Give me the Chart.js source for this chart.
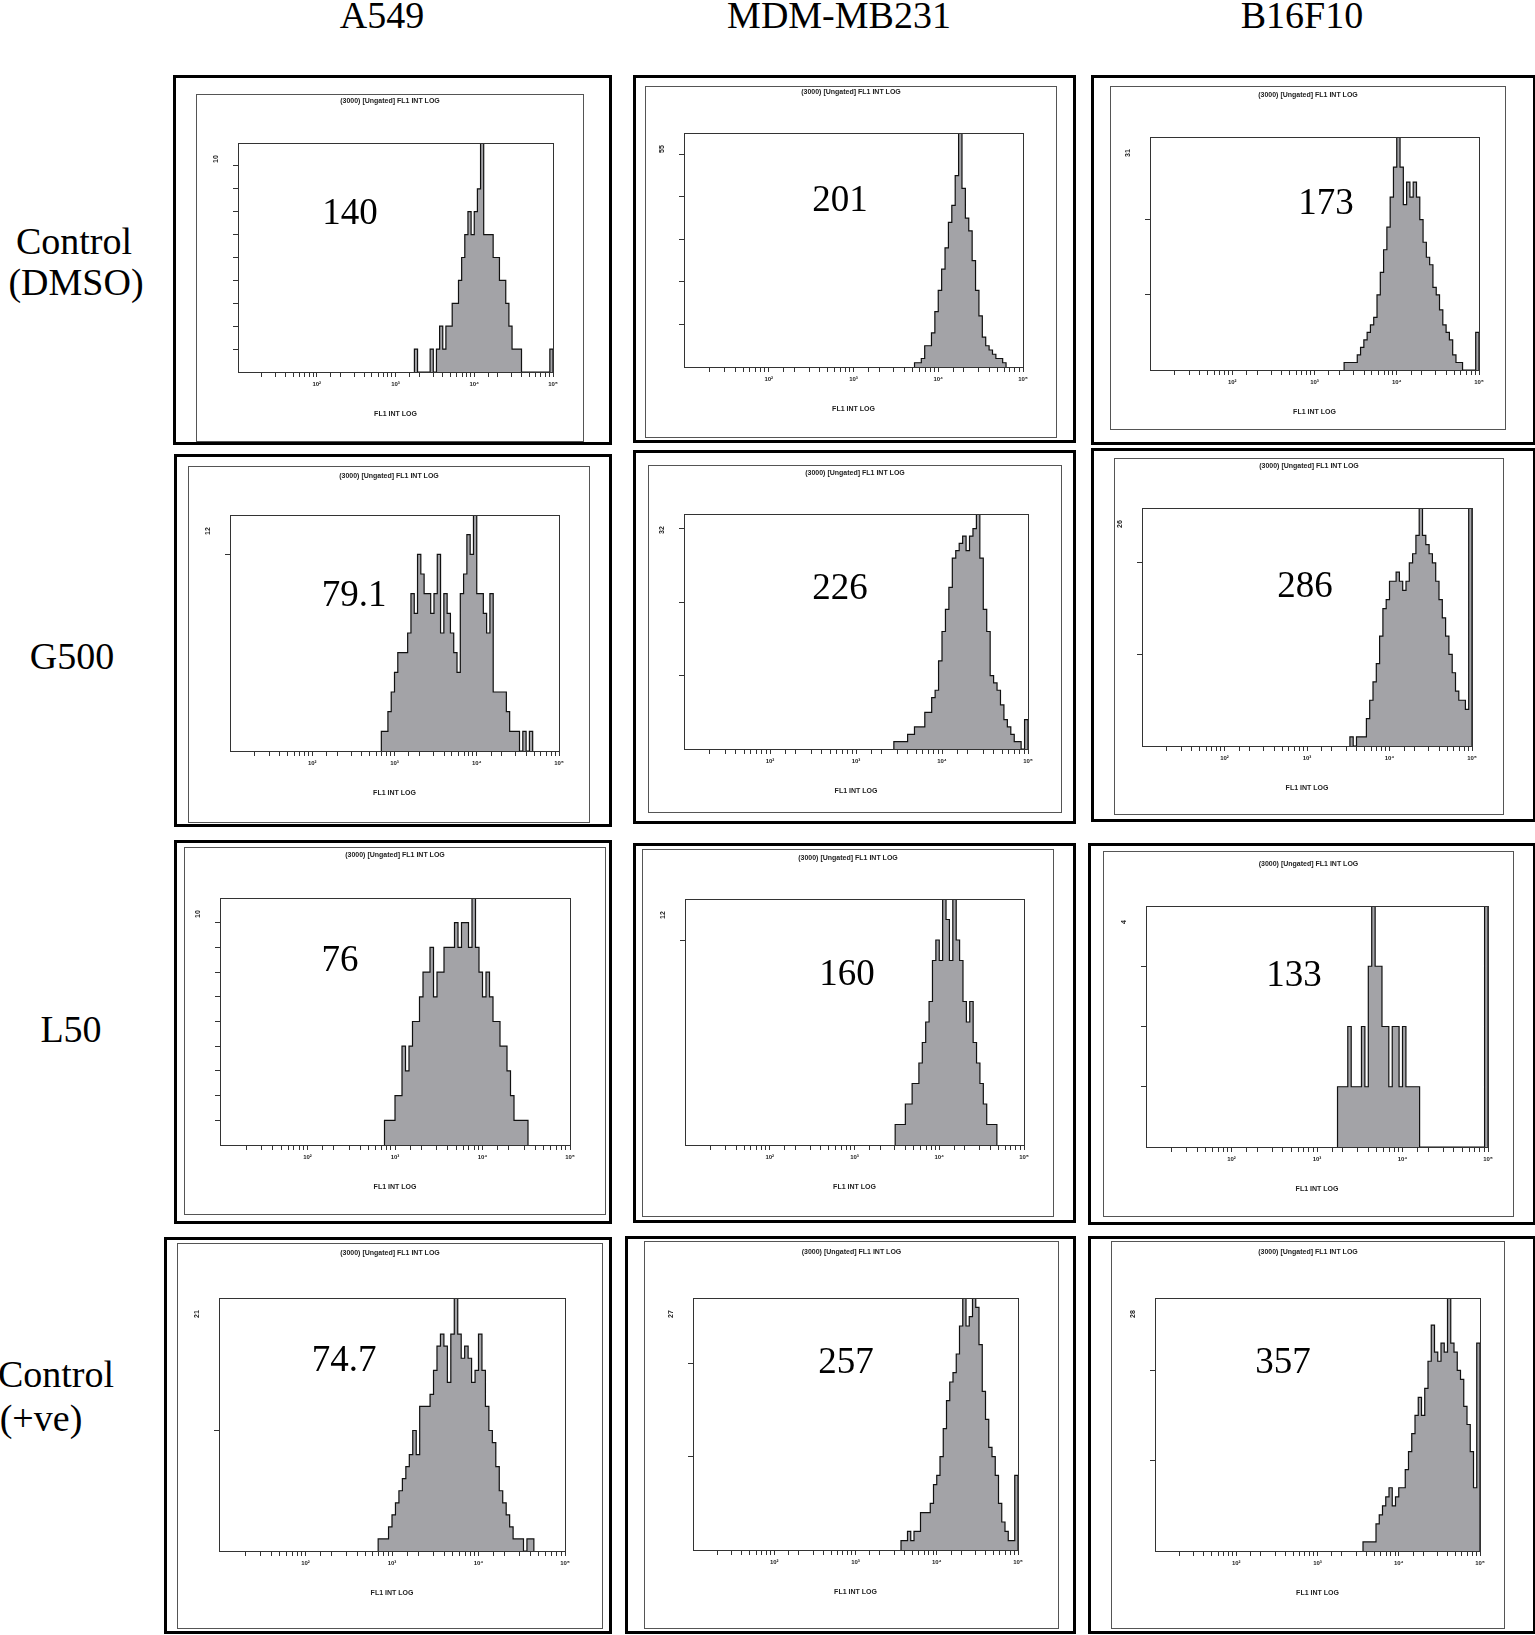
<!DOCTYPE html>
<html>
<head>
<meta charset="utf-8">
<title>FL1 INT LOG histograms</title>
<script src="https://cdn.jsdelivr.net/npm/chart.js@4.4.1/dist/chart.umd.min.js"></script>
<style>
  body { margin: 0; background: #fff; }
  #fig { position: relative; width: 1535px; height: 1635px; overflow: hidden; background: #fff; }
  .lbl { position: absolute; font-family: "Liberation Serif", "Times New Roman", serif; font-size: 38px;
         line-height: 1; white-space: nowrap; transform: translate(-50%, -50%); color: #000; }
  .outer { position: absolute; border: 3px solid #000; box-sizing: border-box; }
  .inner { position: absolute; border: 1px solid #555; box-sizing: border-box; }
  canvas { position: absolute; }
</style>
</head>
<body>
<div id="fig"></div>
<script>
// ---- data ----
const columns = ['A549', 'MDM-MB231', 'B16F10'];
const rowLabels = [['Control', '(DMSO)'], ['G500'], ['L50'], ['Control', '(+ve)']];
const meanValues = ['140', '201', '173', '79.1', '226', '286', '76', '160', '133', '74.7', '257', '357'];
const yMaxLabels = [10, 55, 31, 12, 32, 26, 10, 12, 4, 21, 27, 28];
const xTickLabels = { 100: '10\u00b2', 1000: '10\u00b3', 10000: '10\u2074', 100000: '10\u2075' };
const binWidth = 0.04; // log10 decades per histogram channel

// counts per channel; first channel starts at 10^start
const a549Dmso = [1,0,0,0,0,1,0,1,2,1,2,2,3,3,4,5,6,7,6,7,8,10,6,6,6,5,5,4,4,3,2,1,1,1,0,0,0,0,0,0,0,0,0,1];
const mdmDmso  = [1,1,2,5,5,8,13,18,23,28,34,38,45,56,42,35,32,25,18,12,7,5,4,3,2,2,1];
const b16Dmso  = [1,1,1,1,2,3,4,5,6,7,10,13,16,19,23,27,32,27,22,25,23,25,23,20,17,15,14,11,10,8,6,5,4,2,1,1,0,0,0,0,5];
const a549G500 = [1,1,2,3,4,5,5,5,6,8,7,10,9,8,8,7,8,10,6,8,7,6,5,4,8,9,11,10,13,8,8,7,6,8,3,3,3,3,2,1,1,1,0,1,0,1];
const mdmG500  = [1,1,1,1,2,2,3,3,3,5,5,7,8,12,16,19,22,26,27,28,29,27,29,30,33,26,19,16,10,9,8,6,4,3,2,1,1,0,4];
const b16G500  = [1,0,1,1,1,3,5,7,9,12,15,16,18,18,19,18,17,18,20,21,23,27,23,22,21,20,18,16,14,12,10,8,6,5,5,4,27];
const a549L50  = [1,1,1,2,2,4,3,4,5,5,6,7,7,8,6,7,7,8,8,8,9,8,9,9,8,10,8,7,6,7,6,5,5,4,4,3,2,1,1,1,1];
const mdmL50   = [1,1,1,2,2,3,3,4,5,6,7,9,10,9,12,11,9,12,10,9,7,6,7,5,4,3,2,1,1,1];
const b16L50   = [1,1,1,2,1,1,1,2,1,3,4,3,3,2,2,1,2,2,1,2,1,1,1,1,0,0,0,0,0,0,0,0,0,0,0,0,0,0,0,0,0,0,0,4];
const a549Pos  = [1,1,1,2,3,4,5,6,7,8,10,8,12,12,12,13,15,17,18,17,14,18,22,18,16,17,16,14,15,18,15,12,10,9,7,5,4,3,2,1,1,1,0,1,1];
const mdmPos   = [1,1,2,1,2,2,4,4,4,5,7,8,10,13,16,18,19,21,24,28,24,25,28,26,22,17,14,11,10,8,5,3,2,1,1,8];
const b16Pos   = [1,1,1,1,3,4,5,6,7,5,6,7,7,9,11,13,15,17,15,18,21,25,22,21,23,22,29,23,22,20,19,16,14,11,7,23];

const histograms = [a549Dmso, mdmDmso, b16Dmso, a549G500, mdmG500, b16G500,
                    a549L50, mdmL50, b16L50, a549Pos, mdmPos, b16Pos];
const histStarts = [3.24, 3.72, 3.36, 2.84, 3.44, 3.52, 2.88, 3.48, 3.24, 2.84, 3.56, 3.56];

// ---- layout (measured on a 1472 px wide copy, scaled up below) ----
const S = 1535 / 1472;
const px = v => Math.round(v * S);
const headerPos = [[366, 14], [805, 14], [1249, 14]];
const rowLabelPos = [[[71, 231], [73, 270]], [[69, 629]], [[68, 987]], [[54, 1318], [39, 1360]]];
const boxes = [
  { outer: [166, 72, 587, 427],   inner: [188, 90, 560, 424],    plot: [228, 137, 530, 357],   titleY: 97,   mean: [336, 205] },
  { outer: [607, 72, 1032, 425],  inner: [619, 82, 1014, 420],   plot: [656, 128, 981, 352],   titleY: 88,   mean: [806, 193] },
  { outer: [1046, 72, 1473, 427], inner: [1064, 82, 1444, 412],  plot: [1103, 131, 1418, 355], titleY: 91,   mean: [1272, 196] },
  { outer: [167, 435, 587, 793],  inner: [180, 447, 566, 789],   plot: [221, 494, 536, 720],   titleY: 456,  mean: [339, 572] },
  { outer: [607, 432, 1032, 790], inner: [621, 446, 1018, 780],  plot: [656, 493, 986, 718],   titleY: 454,  mean: [806, 565] },
  { outer: [1046, 430, 1473, 788], inner: [1068, 439, 1442, 782], plot: [1095, 487, 1412, 715], titleY: 447,  mean: [1251, 563] },
  { outer: [167, 806, 587, 1174], inner: [176, 812, 581, 1165],  plot: [211, 861, 547, 1098],  titleY: 820,  mean: [326, 922] },
  { outer: [607, 808, 1032, 1173], inner: [616, 814, 1011, 1167], plot: [657, 862, 982, 1098], titleY: 823,  mean: [812, 935] },
  { outer: [1043, 808, 1473, 1175], inner: [1058, 816, 1452, 1167], plot: [1099, 869, 1427, 1100], titleY: 829, mean: [1241, 936] },
  { outer: [157, 1186, 587, 1567], inner: [170, 1192, 578, 1562], plot: [210, 1245, 542, 1487], titleY: 1202, mean: [330, 1305] },
  { outer: [599, 1185, 1032, 1567], inner: [618, 1190, 1016, 1562], plot: [665, 1245, 976, 1486], titleY: 1201, mean: [811, 1307] },
  { outer: [1043, 1185, 1473, 1567], inner: [1065, 1190, 1443, 1562], plot: [1108, 1245, 1419, 1487], titleY: 1201, mean: [1230, 1307] }
];

const fig = document.getElementById('fig');
function addLabel(text, v) {
  const d = document.createElement('div');
  d.className = 'lbl';
  d.textContent = text;
  d.style.left = px(v[0]) + 'px';
  d.style.top = px(v[1]) + 'px';
  fig.appendChild(d);
}
columns.forEach((c, i) => addLabel(c, headerPos[i]));
rowLabels.forEach((lines, r) => lines.forEach((t, k) => addLabel(t, rowLabelPos[r][k])));

function addBox(cls, b) {
  const d = document.createElement('div');
  d.className = cls;
  d.style.left = px(b[0]) + 'px';
  d.style.top = px(b[1]) + 'px';
  d.style.width = (px(b[2]) - px(b[0])) + 'px';
  d.style.height = (px(b[3]) - px(b[1])) + 'px';
  fig.appendChild(d);
  return d;
}

function histPoints(start, counts) {
  const pts = [{ x: Math.pow(10, start), y: 0 }];
  counts.forEach((c, i) => pts.push({ x: Math.pow(10, start + i * binWidth), y: c }));
  pts.push({ x: Math.pow(10, start + counts.length * binWidth), y: 0 });
  return pts;
}

// frame, run title, axis title, rotated max label and the mean value
const panelText = {
  id: 'panelText',
  afterDraw(chart, args, o) {
    const ctx = chart.ctx, a = chart.chartArea;
    ctx.save();
    ctx.strokeStyle = '#333';
    ctx.lineWidth = 1;
    ctx.strokeRect(Math.round(a.left) + 0.5, Math.round(a.top) + 0.5,
                   Math.round(a.right - a.left), Math.round(a.bottom - a.top));
    ctx.fillStyle = '#222';
    ctx.textAlign = 'center';
    ctx.textBaseline = 'middle';
    ctx.font = 'bold 7px "Liberation Sans", Arial, sans-serif';
    ctx.fillText('(3000) [Ungated] FL1 INT LOG', chart.width / 2, o.titleY);
    ctx.fillText('FL1 INT LOG', (a.left + a.right) / 2, a.bottom + o.xTitleGap);
    ctx.save();
    ctx.translate(a.left - o.yLabelGap, a.top + o.yLabelDrop);
    ctx.rotate(-Math.PI / 2);
    ctx.fillText(o.yLabel, 0, 0);
    ctx.restore();
    ctx.fillStyle = '#000';
    ctx.font = '37px "Liberation Serif", "Times New Roman", serif';
    ctx.fillText(o.mean, o.meanX, o.meanY);
    ctx.restore();
  }
};

Chart.defaults.font.family = '"Liberation Sans", Arial, sans-serif';
const Y_AXIS_W = 8, X_AXIS_H = 22;

boxes.forEach((b, i) => {
  addBox('outer', b.outer);
  const inner = b.inner.map(px), plot = b.plot.map(px);
  addBox('inner', b.inner);
  const cv = document.createElement('canvas');
  const w = inner[2] - inner[0], h = inner[3] - inner[1];
  cv.width = w; cv.height = h;
  cv.style.left = inner[0] + 'px';
  cv.style.top = inner[1] + 'px';
  cv.style.width = w + 'px';
  cv.style.height = h + 'px';
  fig.appendChild(cv);

  const yMax = yMaxLabels[i];
  new Chart(cv, {
    type: 'line',
    data: {
      datasets: [{
        data: histPoints(histStarts[i], histograms[i]),
        stepped: true,
        fill: 'origin',
        backgroundColor: '#a3a3a7',
        borderColor: '#111',
        borderWidth: 1.2,
        pointRadius: 0
      }]
    },
    options: {
      responsive: false,
      animation: false,
      events: [],
      layout: {
        padding: {
          left: plot[0] - inner[0] - Y_AXIS_W,
          top: plot[1] - inner[1],
          right: inner[2] - plot[2],
          bottom: inner[3] - plot[3] - X_AXIS_H
        }
      },
      plugins: {
        legend: { display: false },
        tooltip: { enabled: false },
        panelText: {
          titleY: px(b.titleY) - inner[1],
          xTitleGap: px(40),
          yLabelGap: px(21),
          yLabelDrop: px(15),
          yLabel: String(yMax),
          mean: meanValues[i],
          meanX: px(b.mean[0]) - inner[0],
          meanY: px(b.mean[1]) - inner[1]
        }
      },
      scales: {
        x: {
          type: 'logarithmic',
          min: 10,
          max: 100000,
          border: { display: true, color: '#333', width: 1 },
          grid: { drawOnChartArea: false, drawTicks: true, tickLength: 5, color: '#333' },
          ticks: {
            autoSkip: false,
            maxRotation: 0,
            padding: 4,
            color: '#222',
            font: { size: 6, weight: 'bold' },
            callback: v => xTickLabels[Math.round(v)] || ''
          },
          afterBuildTicks: s => { s.ticks = s.ticks.filter(t => t.value > 10); },
          afterFit: s => { s.height = X_AXIS_H; }
        },
        y: {
          min: 0,
          max: yMax,
          border: { display: true, color: '#333', width: 1 },
          grid: { drawOnChartArea: false, drawTicks: true, tickLength: 5, color: '#333' },
          ticks: { stepSize: yMax <= 10 ? 1 : 10, callback: () => '' },
          afterBuildTicks: s => { s.ticks = s.ticks.filter(t => t.value > 0 && t.value < yMax); },
          afterFit: s => { s.width = Y_AXIS_W; }
        }
      }
    },
    plugins: [panelText]
  });
});
</script>
</body>
</html>
